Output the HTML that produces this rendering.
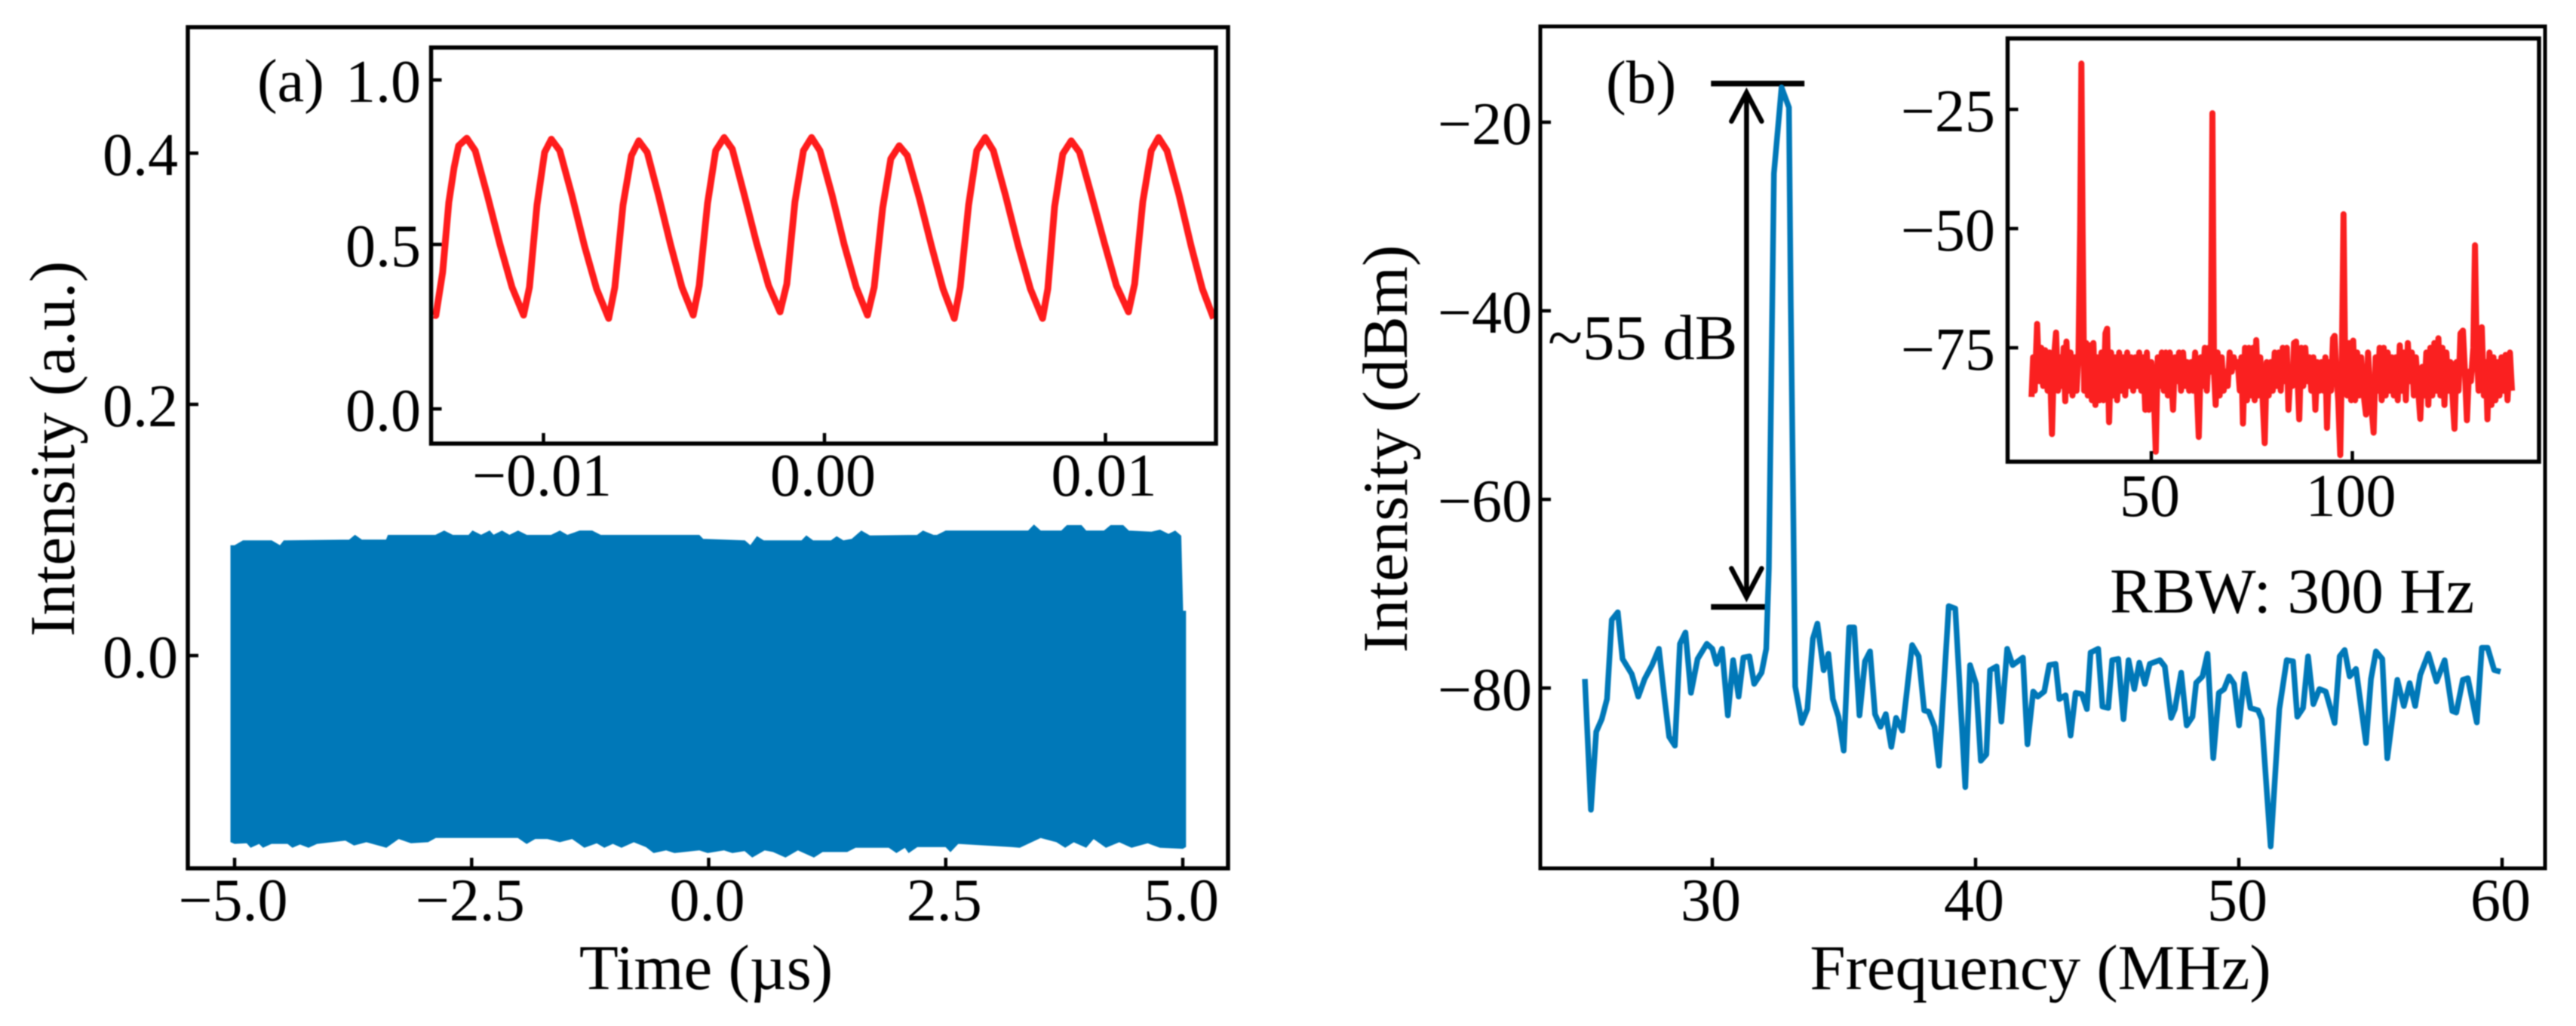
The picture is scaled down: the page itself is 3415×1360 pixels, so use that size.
<!DOCTYPE html>
<html lang="en">
<head>
<meta charset="utf-8">
<title>Intensity time trace and RF spectrum</title>
<style>
html,body{margin:0;padding:0;background:#fff;}
svg{display:block;position:absolute;left:0;top:0;filter:blur(0.8px);}
text{font-family:"Liberation Serif",serif;fill:#000;}
</style>
</head>
<body>
<svg id="chart" xmlns="http://www.w3.org/2000/svg" width="3415" height="1360" viewBox="0 0 3415 1360">
<rect x="0" y="0" width="3415" height="1360" fill="#fff"/>
</svg>
<script>
// ---------- Panel (a) main: time trace envelope ----------
const envTopTime = [-5.04,-5.0,-4.91,-4.61,-4.52,-4.48,-3.79,-3.73,-3.66,-3.40,-3.38,-2.88,-2.79,-2.70,-2.53,-2.49,-2.40,-2.31,-2.27,-2.18,-2.10,-2.01,-1.92,-1.66,-1.57,-1.49,-1.36,-1.23,-1.14,-0.10,-0.06,0.38,0.44,0.51,0.58,0.98,1.03,1.10,1.29,1.35,1.42,1.51,1.61,1.70,2.20,2.26,2.37,2.41,2.50,3.37,3.43,3.50,3.72,3.78,3.93,3.98,4.17,4.24,4.37,4.43,4.67,4.76,4.85,4.92,4.98,5.00,5.03];
const envTopValue = [0.0875,0.0875,0.0914,0.0914,0.0875,0.0914,0.0921,0.0958,0.0921,0.0921,0.0958,0.0958,0.0992,0.0958,0.0958,0.0992,0.0958,0.0992,0.0958,0.0992,0.0958,0.0992,0.0958,0.0958,0.0992,0.0958,0.0992,0.0992,0.0958,0.0958,0.0927,0.0914,0.0875,0.0947,0.0914,0.0914,0.0953,0.0914,0.0914,0.0947,0.0914,0.0927,0.0992,0.0953,0.0958,0.0992,0.0958,0.0958,0.0992,0.0992,0.1039,0.0992,0.0992,0.1036,0.1036,0.0992,0.0992,0.1036,0.1036,0.0992,0.0984,0.0999,0.0966,0.0992,0.0953,0.0354,0.0354];
const envBottomTime = [-5.04,-5.00,-4.87,-4.83,-4.74,-4.70,-4.61,-4.44,-4.39,-4.31,-4.22,-4.13,-3.83,-3.74,-3.61,-3.40,-3.27,-3.14,-2.96,-2.88,-2.01,-1.92,-1.83,-1.70,-1.57,-1.44,-1.31,-1.18,-1.10,-1.01,-0.92,-0.79,-0.66,-0.58,-0.45,-0.36,-0.10,-0.01,0.16,0.25,0.38,0.46,0.59,0.68,0.81,0.94,1.11,1.20,1.46,1.55,1.90,1.98,2.07,2.11,2.20,2.50,2.55,2.63,3.20,3.28,3.50,3.67,3.76,3.85,3.98,4.06,4.19,4.33,4.46,4.63,4.76,5.00,5.03];
const envBottomValue = [-0.1483,-0.1496,-0.1491,-0.1527,-0.1496,-0.1527,-0.1496,-0.1496,-0.1527,-0.1501,-0.1527,-0.1496,-0.1470,-0.1509,-0.1483,-0.1527,-0.1457,-0.1491,-0.1483,-0.1449,-0.1449,-0.1496,-0.1457,-0.1457,-0.1483,-0.1457,-0.1527,-0.1491,-0.1527,-0.1496,-0.1527,-0.1483,-0.1522,-0.1569,-0.1548,-0.1569,-0.1548,-0.1569,-0.1548,-0.1569,-0.1553,-0.1605,-0.1548,-0.1561,-0.1605,-0.1548,-0.1605,-0.1561,-0.1561,-0.1527,-0.1527,-0.1569,-0.1527,-0.1569,-0.1522,-0.1522,-0.1561,-0.1496,-0.1522,-0.1527,-0.1449,-0.1483,-0.1527,-0.1483,-0.1527,-0.1457,-0.1527,-0.1483,-0.1527,-0.1491,-0.1527,-0.1535,-0.1522];
const mainAXTicks = [-5,-2.5,0,2.5,5];
const mainAXLabels = ['\u22125.0','\u22122.5','0.0','2.5','5.0'];
const mainAYTicks = [0,0.2,0.4];
const mainAYLabels = ['0.0','0.2','0.4'];

// ---------- Panel (a) inset: zoomed waveform ----------
const zoomTime = [-0.01391,-0.01383,-0.01359,-0.01337,-0.01318,-0.01302,-0.01273,-0.01243,-0.01200,-0.01155,-0.01112,-0.01071,-0.01050,-0.01023,-0.00996,-0.00972,-0.00942,-0.00899,-0.00854,-0.00811,-0.00768,-0.00746,-0.00717,-0.00687,-0.00661,-0.00631,-0.00591,-0.00548,-0.00507,-0.00467,-0.00446,-0.00416,-0.00387,-0.00357,-0.00328,-0.00285,-0.00242,-0.00199,-0.00158,-0.00134,-0.00105,-0.00075,-0.00046,-0.00016,0.00027,0.00070,0.00113,0.00153,0.00177,0.00207,0.00236,0.00266,0.00295,0.00338,0.00381,0.00422,0.00462,0.00483,0.00513,0.00542,0.00572,0.00601,0.00644,0.00690,0.00733,0.00776,0.00795,0.00819,0.00848,0.00878,0.00908,0.00950,0.00996,0.01039,0.01082,0.01104,0.01133,0.01163,0.01189,0.01219,0.01262,0.01305,0.01345,0.01385];
const zoomValue = [0.285,0.284,0.415,0.628,0.734,0.800,0.823,0.785,0.650,0.500,0.370,0.285,0.370,0.620,0.780,0.820,0.785,0.650,0.495,0.365,0.275,0.370,0.620,0.770,0.815,0.780,0.650,0.500,0.370,0.285,0.375,0.625,0.785,0.825,0.790,0.650,0.505,0.375,0.295,0.380,0.630,0.785,0.825,0.785,0.650,0.500,0.370,0.285,0.370,0.610,0.760,0.800,0.770,0.640,0.495,0.365,0.275,0.370,0.620,0.785,0.825,0.785,0.650,0.495,0.365,0.275,0.365,0.615,0.775,0.815,0.780,0.650,0.505,0.375,0.295,0.380,0.630,0.785,0.825,0.785,0.650,0.495,0.365,0.275];
const zoomXTicks = [-0.01,0,0.01];
const zoomXLabels = ['\u22120.01','0.00','0.01'];
const zoomYTicks = [0,0.5,1];
const zoomYLabels = ['0.0','0.5','1.0'];

// ---------- Panel (b) main: single-tone RF spectrum ----------
const specFreq = [25.16,25.39,25.59,25.80,26.00,26.18,26.41,26.59,26.94,27.19,27.43,27.71,27.97,28.19,28.36,28.58,28.77,28.98,29.19,29.44,29.79,30.00,30.16,30.37,30.59,30.79,31.00,31.18,31.41,31.59,31.87,32.05,32.15,32.34,32.63,32.91,32.98,33.08,33.15,33.40,33.61,33.82,33.99,34.23,34.41,34.58,34.79,34.99,35.20,35.39,35.59,35.80,35.99,36.18,36.39,36.59,36.80,36.98,37.22,37.59,37.84,38.05,38.22,38.44,38.61,38.98,39.23,39.61,39.79,40.02,40.20,40.41,40.55,40.80,40.98,41.20,41.41,41.80,41.97,42.19,42.36,42.61,42.80,43.04,43.18,43.42,43.61,43.80,44.04,44.23,44.37,44.66,44.82,45.04,45.19,45.42,45.62,45.81,46.03,46.22,46.43,46.62,47.00,47.19,47.43,47.57,47.81,48.02,48.24,48.38,48.62,48.81,49.03,49.24,49.44,49.63,49.82,50.01,50.22,50.44,50.73,50.87,51.21,51.54,51.82,52.06,52.22,52.44,52.63,52.83,53.06,53.30,53.64,53.83,54.02,54.21,54.45,54.83,55.02,55.21,55.45,55.64,56.02,56.27,56.49,56.70,56.89,57.20,57.51,57.82,58.11,58.26,58.51,58.70,59.04,59.23,59.45,59.70,59.94];
const specPower = [-79.04,-92.91,-84.64,-83.31,-81.17,-72.77,-71.97,-76.91,-78.51,-80.91,-79.04,-77.57,-75.84,-81.17,-85.17,-86.11,-75.31,-74.11,-80.51,-76.91,-75.31,-75.84,-77.44,-75.84,-82.91,-77.04,-80.91,-76.77,-76.64,-79.57,-78.37,-75.84,-67.28,-25.44,-16.30,-18.43,-38.96,-62.24,-79.84,-83.71,-82.24,-74.77,-73.17,-78.11,-76.37,-81.17,-83.04,-86.64,-73.57,-73.57,-82.91,-77.17,-76.11,-82.77,-84.11,-82.77,-86.24,-83.17,-84.51,-75.44,-76.64,-82.37,-82.51,-84.11,-88.24,-71.31,-71.57,-90.51,-77.57,-79.57,-87.71,-87.04,-78.11,-77.71,-83.57,-75.84,-77.57,-76.77,-85.97,-80.37,-80.91,-80.37,-77.57,-77.44,-81.17,-80.77,-85.04,-80.51,-80.64,-82.24,-76.24,-75.84,-81.97,-82.11,-77.04,-76.91,-83.31,-77.04,-80.11,-77.31,-79.57,-77.44,-77.04,-77.71,-83.17,-82.24,-78.37,-83.97,-83.04,-79.44,-78.77,-76.37,-87.44,-80.51,-80.11,-78.77,-79.57,-83.97,-78.51,-82.11,-82.37,-83.31,-96.80,-82.24,-77.04,-77.17,-83.04,-82.11,-76.64,-81.71,-80.11,-80.37,-83.71,-76.64,-75.97,-78.77,-77.97,-85.84,-79.04,-76.11,-76.91,-87.46,-79.13,-81.91,-79.48,-81.91,-78.61,-76.36,-79.31,-77.05,-82.43,-82.60,-79.13,-78.96,-83.65,-75.73,-75.73,-78.09,-78.27];
const specXTicks = [30,40,50,60];
const specXLabels = ['30','40','50','60'];
const specYTicks = [-20,-40,-60,-80];
const specYLabels = ['\u221220','\u221240','\u221260','\u221280'];
const peakLevel = -15.9;
const floorLevel = -71.4;

// ---------- Panel (b) inset: wideband spectrum ----------
const wideFreq = [20.2,20.6,21.0,21.6,22.1,22.6,23.1,23.6,24.2,24.7,25.3,25.8,26.3,26.8,27.3,27.8,28.2,28.6,28.9,29.4,29.9,30.4,30.9,31.4,31.9,32.3,32.6,32.9,33.3,33.8,34.2,34.7,35.2,35.6,36.1,36.6,37.1,37.6,38.1,38.6,39.0,39.5,40.0,40.5,41.0,41.5,42.0,42.5,43.0,43.5,44.0,44.5,45.0,45.5,46.0,46.5,47.0,47.5,48.0,48.5,48.9,49.4,50.0,50.6,51.1,51.6,52.1,52.6,53.1,53.6,54.1,54.6,55.4,55.9,56.4,56.9,57.4,57.9,58.4,58.9,59.4,59.9,60.4,60.9,61.3,61.8,62.3,62.8,63.3,63.8,64.3,64.8,65.2,65.6,66.0,66.5,67.0,67.5,68.0,68.5,69.0,69.5,70.0,70.5,71.0,71.5,72.0,72.4,72.8,73.3,73.8,74.3,74.8,75.3,75.7,76.1,76.6,77.1,77.6,78.2,78.7,79.2,79.7,80.2,80.7,81.2,81.7,82.2,82.7,83.2,83.7,84.1,84.6,85.1,85.5,86.0,86.8,87.3,87.8,88.3,88.8,89.3,89.8,90.3,90.8,91.3,91.8,92.3,92.8,93.3,93.7,94.2,94.7,95.2,95.6,96.0,96.5,97.0,97.4,97.8,98.2,98.7,99.2,99.7,100.2,100.7,101.2,101.7,102.2,102.7,103.4,103.9,104.4,105.3,105.8,106.3,106.8,107.3,107.8,108.3,108.8,109.3,109.8,110.3,110.8,111.3,111.8,112.3,112.8,113.3,113.8,114.3,114.8,115.3,115.8,116.9,117.4,117.9,118.4,118.9,119.4,119.9,120.4,120.9,121.4,121.9,122.4,122.9,123.4,123.9,124.4,125.4,125.9,126.4,126.9,127.5,128.0,128.5,129.0,129.5,130.1,130.5,130.9,131.4,131.8,132.2,132.7,133.2,133.6,134.1,134.6,135.1,135.6,136.1,136.6,137.1,137.6,138.1,138.6,139.2,139.7];
const widePower = [-85.3,-77,-84,-70,-82,-75,-83,-75.5,-84,-76,-93.1,-77,-71.8,-84,-77,-83,-75,-86.2,-73.7,-84,-76,-85,-77,-84,-76,-50,-15.4,-50,-84,-74,-85,-74.5,-86,-74,-87,-77,-86,-76,-86,-72,-71,-90.6,-76,-85,-77,-86,-76,-84,-77,-85,-76,-83,-77,-84,-77,-83,-76,-84,-77,-88,-76,-88,-78,-84,-96.8,-77,-83,-76,-84,-76,-85,-76,-88,-77,-82,-76,-84,-76,-83,-78,-84,-78,-84,-76,-83,-93.7,-77,-83,-75,-84,-75,-80,-25.8,-80,-87,-76,-85,-77,-84,-80,-83,-76,-80,-77,-79,-78,-84,-77,-90.9,-75,-86,-75,-85,-75,-86,-73.4,-85,-77,-84,-95,-78,-85,-78,-84,-76,-83,-76,-84,-75,-82,-75,-88,-80,-83,-74,-73.7,-90,-75,-83,-75,-82,-77,-84,-77,-88,-78,-84,-78,-84,-77,-91.8,-78,-84,-73,-72.5,-80,-86,-97.5,-78,-47,-78,-85,-74,-86,-73.5,-86,-76,-85,-77,-84,-89,-76,-84,-92.8,-77,-84,-75,-86,-75,-85,-76,-84,-77,-85,-77,-86,-74.5,-84,-76,-86,-74,-82,-76,-85,-77,-89.9,-79,-85,-76,-87,-75,-85,-74,-84,-73,-85,-75,-87,-76,-84,-78,-92,-78,-84,-72,-71.4,-80,-90.2,-80,-82,-75,-53.5,-75,-84,-71,-70.7,-85,-78,-90,-76,-87,-77,-86,-78,-85,-77,-84,-76.5,-86,-76,-84];
const wideXTicks = [50,100];
const wideXLabels = ['50','100'];
const wideYTicks = [-25,-50,-75];
const wideYLabels = ['\u221225','\u221250','\u221275'];

// ---------- Axis functions ----------
const xMainA = t => 939.5 + t * 125.7;
const yMainA = v => 869 - v * 1665;
const xZoom = t => 1093 + t * 37250;
const yZoom = v => 542 - v * 436;
const xSpec = f => 2270 + (f - 30) * 34.9;
const ySpec = v => 162 + (-20 - v) * 12.5;
const xWide = f => 2852 + (f - 50) * 5.33;
const yWide = v => 145 + (-25 - v) * 6.32;

const svg = document.getElementById('chart');
const NS = 'http://www.w3.org/2000/svg';
function make(tag, attrs, parent) {
  const el = document.createElementNS(NS, tag);
  for (const k in attrs) el.setAttribute(k, attrs[k]);
  (parent || svg).appendChild(el);
  return el;
}
function linePath(xs, ys, xf, yf) {
  return xs.map((x, i) => (i ? 'L' : 'M') + xf(x).toFixed(1) + ' ' + yf(ys[i]).toFixed(1)).join('');
}
function drawFrame(prefix, box, xTicks, xLabels, yTicks, yLabels, xf, yf, xBase, yRight, sw) {
  const g = make('g', {});
  
  
  xTicks.forEach((t, i) => {
    const tick = make('line', {x1: xf(t), x2: xf(t), y1: box.b, y2: box.b - 14, stroke: '#000', 'stroke-width': 4.5}, g);
    
    
    const lab = make('text', {x: xf(t) - 2, y: xBase, 'font-size': 80, 'text-anchor': 'middle'}, g);
    
    
    lab.textContent = xLabels[i];
  });
  yTicks.forEach((v, i) => {
    const tick = make('line', {x1: box.l, x2: box.l + 14, y1: yf(v), y2: yf(v), stroke: '#000', 'stroke-width': 4.5}, g);
    
    
    const lab = make('text', {x: yRight, y: yf(v) + 29, 'font-size': 80, 'text-anchor': 'end'}, g);
    
    
    lab.textContent = yLabels[i];
  });
  const frame = make('rect', {x: box.l, y: box.t, width: box.r - box.l, height: box.b - box.t, fill: 'none', stroke: '#000', 'stroke-width': sw}, g);
  
  
}
function drawText(str, x, y, size, anchor, rot) {
  const attrs = {x: x, y: y, 'font-size': size, 'text-anchor': anchor};
  if (rot) attrs.transform = 'rotate(-90 ' + x + ' ' + y + ')';
  const el = make('text', attrs);
  el.textContent = str;
  return el;
}

// ---------- Panel (a) ----------
const envPath = linePath(envTopTime, envTopValue, xMainA, yMainA) +
  envBottomTime.slice().reverse().map((t, i, a) => 'L' + xMainA(t).toFixed(1) + ' ' + yMainA(envBottomValue[envBottomValue.length - 1 - i]).toFixed(1)).join('') + 'Z';
const envelope = make('path', {d: envPath, fill: '#0078b8', stroke: '#0078b8', 'stroke-width': 1});


drawFrame('panel-a', {l: 249, r: 1628, t: 36, b: 1151}, mainAXTicks, mainAXLabels, mainAYTicks, mainAYLabels, xMainA, yMainA, 1220, 236, 5.5);

const xTitleA = drawText('Time (\u00b5s)', 936, 1311, 85, 'middle');


const yTitleA = drawText('Intensity (a.u.)', 98, 595, 85, 'middle', true);


const tagA = drawText('(a)', 341, 134, 80, 'start');



// Inset (a)
const zoomLine = make('path', {d: linePath(zoomTime, zoomValue, xZoom, yZoom), fill: 'none', stroke: '#ff1c1c', 'stroke-width': 9, 'stroke-linejoin': 'round'});


drawFrame('inset-a', {l: 571.5, r: 1612, t: 63, b: 588}, zoomXTicks, zoomXLabels, zoomYTicks, zoomYLabels, xZoom, yZoom, 657, 558, 5.5);

// ---------- Panel (b) ----------
const barTop = make('line', {x1: xSpec(29.95), x2: xSpec(33.5), y1: ySpec(peakLevel), y2: ySpec(peakLevel), stroke: '#000', 'stroke-width': 7.5});


const barBottom = make('line', {x1: xSpec(29.95), x2: xSpec(32.15), y1: ySpec(floorLevel), y2: ySpec(floorLevel), stroke: '#000', 'stroke-width': 7.5});


const arrowX = xSpec(31.3);
const arrowTop = ySpec(peakLevel) + 12;
const arrowBottom = ySpec(floorLevel) - 13;
const arrow = make('path', {
  d: 'M' + arrowX + ' ' + arrowTop + 'V' + arrowBottom +
     'M' + (arrowX - 20) + ' ' + (arrowTop + 38) + 'L' + arrowX + ' ' + arrowTop + 'L' + (arrowX + 20) + ' ' + (arrowTop + 38) +
     'M' + (arrowX - 20) + ' ' + (arrowBottom - 38) + 'L' + arrowX + ' ' + arrowBottom + 'L' + (arrowX + 20) + ' ' + (arrowBottom - 38),
  fill: 'none', stroke: '#000', 'stroke-width': 6.5, 'stroke-linecap': 'round', 'stroke-linejoin': 'miter'
});



const specLine = make('path', {d: linePath(specFreq, specPower, xSpec, ySpec), fill: 'none', stroke: '#0078b8', 'stroke-width': 7.5, 'stroke-linejoin': 'round'});


drawFrame('panel-b', {l: 2042, r: 3374, t: 35, b: 1151}, specXTicks, specXLabels, specYTicks, specYLabels, xSpec, ySpec, 1220, 2031, 5);

const xTitleB = drawText('Frequency (MHz)', 2705, 1311, 85, 'middle');


const yTitleB = drawText('Intensity (dBm)', 1865, 595, 85, 'middle', true);


const tagB = drawText('(b)', 2129, 136, 80, 'start');


const rangeLabel = drawText('~55 dB', 2052, 476, 85, 'start');


const rbwLabel = drawText('RBW: 300 Hz', 2797, 812, 85, 'start');



// Inset (b)
const wideLine = make('path', {d: linePath(wideFreq, widePower, xWide, yWide), fill: 'none', stroke: '#fa2020', 'stroke-width': 8, 'stroke-linejoin': 'round'});


drawFrame('inset-b', {l: 2661.5, r: 3366, t: 51, b: 612}, wideXTicks, wideXLabels, wideYTicks, wideYLabels, xWide, yWide, 684, 2645, 5.5);
</script>
</body>
</html>
